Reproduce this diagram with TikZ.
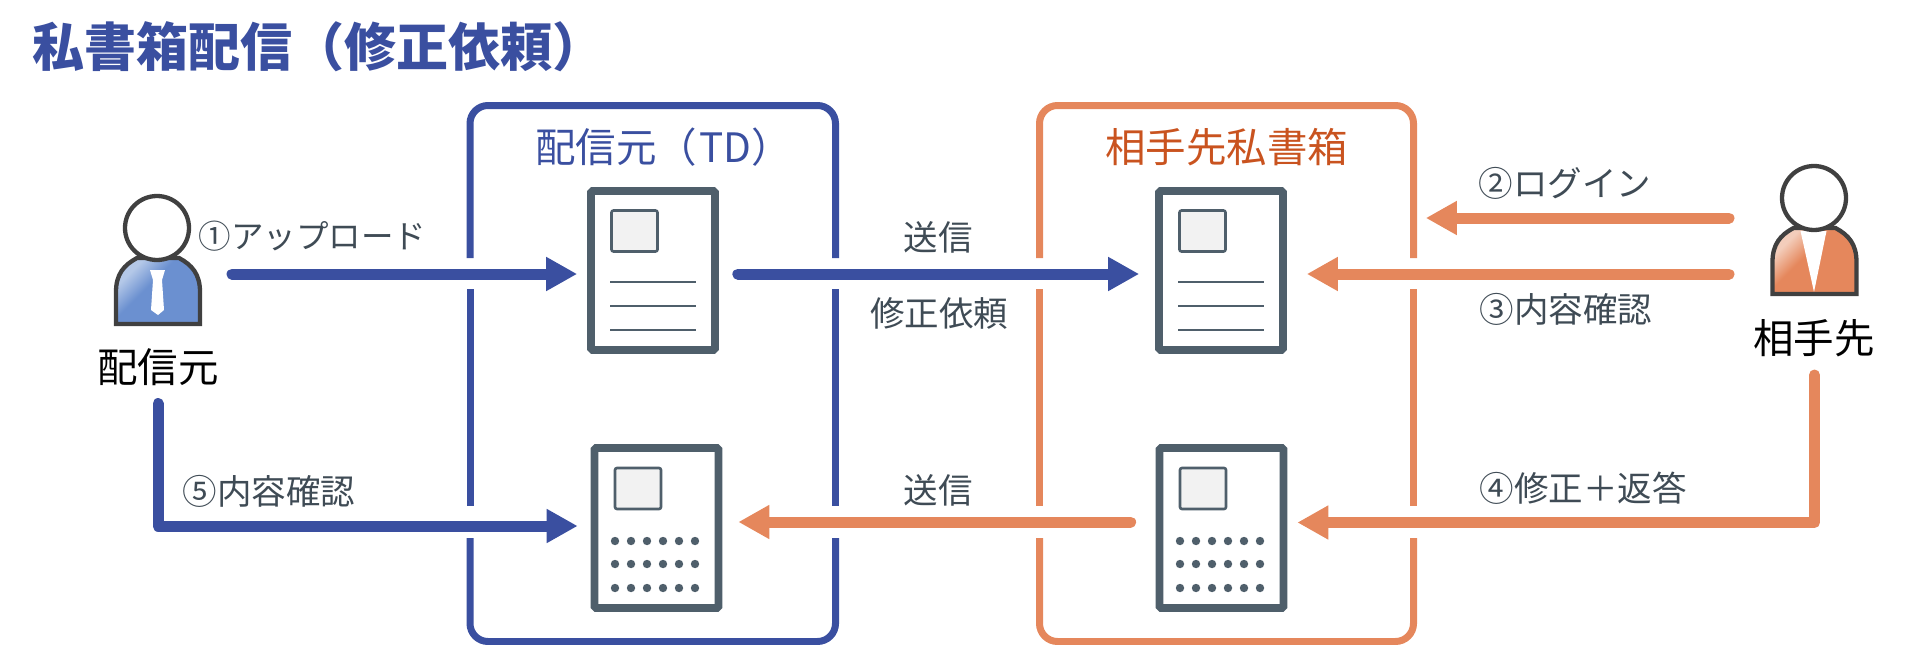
\documentclass[tikz,border=0pt]{standalone}
\usepackage{fontspec}
\setmainfont{Noto Sans CJK JP}
\usetikzlibrary{arrows.meta,calc}
\definecolor{tdblue}{HTML}{3A4FA0}
\definecolor{peer}{HTML}{E5875C}
\definecolor{peertext}{HTML}{C9531F}
\definecolor{slate}{HTML}{4F5F6B}
\definecolor{labelc}{HTML}{3F4B55}
\definecolor{outline}{HTML}{404040}
\definecolor{bodyblue}{HTML}{6B90D0}
\definecolor{bodylight}{HTML}{B4C8E8}
\definecolor{peerlight}{HTML}{F3CDBB}
\pgfdeclareverticalshading{bluebody}{100bp}{color(0bp)=(bodyblue); color(57bp)=(bodyblue); color(72bp)=(bodylight); color(100bp)=(bodylight)}
\pgfdeclareverticalshading{peerbody}{100bp}{color(0bp)=(peer); color(57bp)=(peer); color(72bp)=(peerlight); color(100bp)=(peerlight)}
\tikzset{
  x=1pt,y=-1pt,
  lbl/.style={font=\fontsize{34.5}{40}\selectfont,text=labelc,inner sep=0pt},
  who/.style={font=\fontsize{40.5}{46}\selectfont,text=black,inner sep=0pt},
  boxtitle/.style={font=\fontsize{40.5}{46}\selectfont,inner sep=0pt},
  boxline/.style={line width=7pt,rounded corners=18pt},
  doc/.style={draw=slate,fill=white,line width=7.7pt,rounded corners=1.5pt,minimum width=124pt,minimum height=159pt,inner sep=0pt},
  thumb/.style={draw=slate,fill=black!5,line width=2.6pt,rounded corners=2pt,minimum width=46pt,minimum height=41pt,inner sep=0pt},
  txtline/.style={draw=slate,line width=2.6pt},
  head/.style={circle,draw=outline,fill=white,line width=4.3pt,minimum size=64pt,inner sep=0pt},
  bodyline/.style={draw=outline,line width=4.3pt},
  arr/.style={line width=11pt,line cap=round,line join=round,-{Triangle[length=31pt,width=32pt]}},
}
\newcommand{\docparts}[4]{% name, cx, cy, height
  \node[doc,minimum height=#4pt] (#1) at (#2,#3) {};
  \node[thumb] (#1t) at ($(#1.center)+(-18.5,-39.5)$) {};
}
\newcommand{\textlines}[1]{%
  \foreach \dy in {11.5,35.5,59.5}
    \draw[txtline] ($(#1.center)+(-43,\dy)$) -- ($(#1.center)+(43,\dy)$);
}
\newcommand{\dotrows}[1]{%
  \foreach \dy in {13,36,60}
    \foreach \dx in {-41.5,-25.5,-9.5,6.5,22.5,38.5}
      \fill[slate] ($(#1.center)+(\dx,\dy)$) circle (4.2);
}
\begin{document}
\begin{tikzpicture}
\useasboundingbox (0,0) rectangle (1920,645);
\node[anchor=west,inner sep=0pt,font=\fontsize{52}{58}\bfseries\selectfont,text=tdblue] (title) at (32,47) {私書箱配信（修正依頼）};

% frames
\draw[boxline,tdblue] (470,258) -- (470,105.5) -- (835.5,105.5) -- (835.5,258);
\draw[boxline,tdblue] (470,289) -- (470,506);
\draw[boxline,tdblue] (835.5,289) -- (835.5,506);
\draw[boxline,tdblue] (470,538) -- (470,641.5) -- (835.5,641.5) -- (835.5,538);
\draw[boxline,peer] (1039.5,258) -- (1039.5,105.5) -- (1413.5,105.5) -- (1413.5,258);
\draw[boxline,peer] (1039.5,289) -- (1039.5,506);
\draw[boxline,peer] (1413.5,289) -- (1413.5,506);
\draw[boxline,peer] (1039.5,538) -- (1039.5,641.5) -- (1413.5,641.5) -- (1413.5,538);
\node[boxtitle,text=tdblue,anchor=west] (tdtitle) at (535,147) {配信元（\hspace{2pt}TD）};
\node[boxtitle,text=peertext] (boxtitle2) at (1226.5,147) {相手先私書箱};

% documents
\docparts{d1}{653}{270.5}{159}
\textlines{d1}
\docparts{d2}{656.5}{528}{160}
\dotrows{d2}
\docparts{d3}{1221}{270.5}{159}
\textlines{d3}
\docparts{d4}{1221.5}{528}{160}
\dotrows{d4}

% people
\begin{scope}[shift={(116,258)}]
  \path[shading=bluebody,shading angle=45] (0,66) -- (0,34) .. controls (0,16) and (8,7) .. (21,0) -- (63,0) .. controls (76,7) and (84,16) .. (84,34) -- (84,66) -- cycle;
  \draw[bodyline,line join=miter] (0,66) -- (0,34) .. controls (0,16) and (8,7) .. (21,0) -- (63,0) .. controls (76,7) and (84,16) .. (84,34) -- (84,66) -- cycle;
  \fill[white] (34,12) -- (49,12) -- (46,22) -- (48,52) -- (42,57) -- (35,52) -- (37,22) -- cycle;
\end{scope}
\node[head] (user) at (157,228) {};
\node[who] (userlabel) at (158,367) {配信元};
\begin{scope}[shift={(1772.5,228)}]
  \path[shading=peerbody,shading angle=45] (0,66) -- (0,34) .. controls (0,16) and (8,7) .. (21,0) -- (63,0) .. controls (76,7) and (84,16) .. (84,34) -- (84,66) -- cycle;
  \fill[white] (28,3) -- (54,3) -- (41.5,64) -- cycle;
  \draw[bodyline,line join=miter] (0,66) -- (0,34) .. controls (0,16) and (8,7) .. (21,0) -- (63,0) .. controls (76,7) and (84,16) .. (84,34) -- (84,66) -- cycle;
\end{scope}
\node[head] (peerp) at (1814,198) {};
\node[who] (peerlabel) at (1814,338) {相手先};

% connector ends
\coordinate (a1e) at ($(d1.west)+(-10,3.5)$);
\coordinate (a1s) at ($(user.center |- a1e)+(75,0)$);
\coordinate (a2s) at ($(d1.east)+(19,3.5)$);
\coordinate (a2e) at ($(d3.west)+(-16,3.5)$);
\coordinate (a3s) at ($(peerp.center)+(-85,20)$);
\coordinate (a3e) at ($(d3.east)+(139,-52.5)$);
\coordinate (a4s) at ($(peerp.center)+(-85,76)$);
\coordinate (a4e) at ($(d3.east)+(20,3.5)$);
\coordinate (a5s) at ($(peerlabel.center)+(0.5,37)$);
\coordinate (a5c) at ($(a5s)+(0,147.5)$);
\coordinate (a5e) at ($(d4.east)+(10,-5.5)$);
\coordinate (a6s) at ($(d4.west)+(-25,-6)$);
\coordinate (a6e) at ($(d2.east)+(16,-6)$);
\coordinate (a7s) at ($(userlabel.center)+(0,36.5)$);
\coordinate (a7c) at ($(a7s)+(0,122.5)$);
\coordinate (a7e) at ($(d2.west)+(-13,-2)$);

\draw[arr,tdblue] (a1s) -- (a1e);
\draw[arr,tdblue] (a2s) -- (a2e);
\draw[arr,peer] (a3s) -- (a3e);
\draw[arr,peer] (a4s) -- (a4e);
\draw[arr,peer] (a5s) -- (a5c) -- (a5e);
\draw[arr,peer] (a6s) -- (a6e);
\draw[arr,tdblue] (a7s) -- (a7c) -- (a7e);

% labels
\node[lbl,font=\fontsize{32.5}{40}\selectfont] (l1) at (312.5,236) {①アップロード};
\node[lbl] (l2) at (938,237) {送信};
\node[lbl] (l3) at (939,313) {修正依頼};
\node[lbl] (l4) at (938,490) {送信};
\node[lbl] (l5) at (1565,183) {②ログイン};
\node[lbl] (l6) at (1566,309) {③内容確認};
\node[lbl] (l7) at (1583,488) {④修正＋返答};
\node[lbl] (l8) at (269,491) {⑤内容確認};
\end{tikzpicture}
\end{document}
